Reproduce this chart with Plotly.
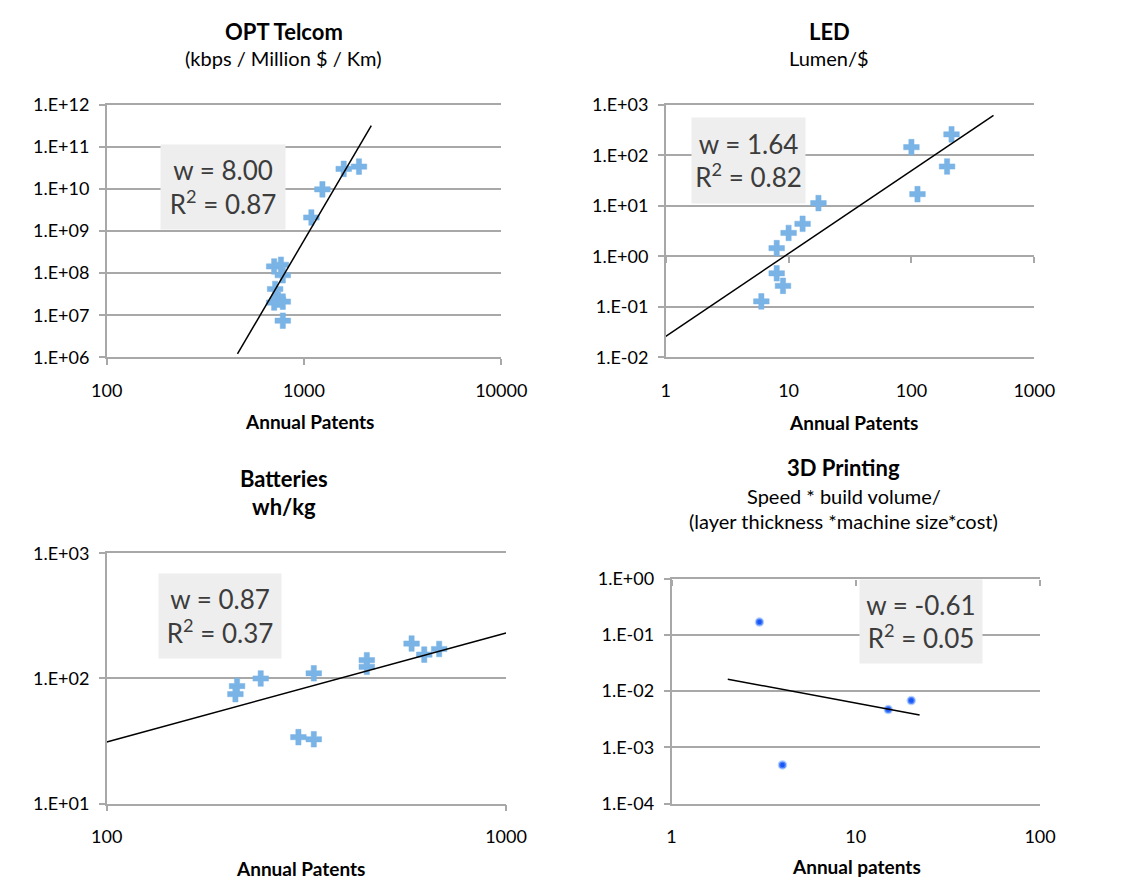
import numpy as np
import plotly.graph_objects as go

PW, PH = 1126, 889      # page (window) size
OFF = 8                 # default body margin of the page
W, H = PW - 2 * OFF, PH - 2 * OFF
FONT = "Lato"

# ---------------- data ----------------
opt_patents = [1900, 1590, 1240, 1090, 706, 764, 781, 714, 738, 781, 706, 781]
opt_perf = [3.4e10, 3.0e10, 9.8e9, 2.1e9, 1.44e8, 1.58e8, 8.9e7, 4.2e7, 2.35e7, 2.1e7, 2.0e7, 7.4e6]
opt_fit = dict(w=8.00, r2=0.87, c=6.0e-16, x0=460, x1=2194)

led_patents = [6, 8, 8, 9, 10, 13, 17.5, 100, 112, 195, 212]
led_perf = [0.128, 1.45, 0.46, 0.26, 2.9, 4.4, 11.3, 145, 17, 60, 260]
led_fit = dict(w=1.64, r2=0.82, c=0.026, x0=1, x1=466)

bat_patents = [212, 210, 243, 302, 330, 330, 448, 448, 580, 624, 680]
bat_perf = [87, 75, 100, 34, 32.7, 110, 140, 124, 190, 155, 172]
bat_fit = dict(w=0.87, r2=0.37, c=0.566, x0=100, x1=1000)

p3d_patents = [3, 4, 15, 20]
p3d_perf = [0.169, 4.9e-4, 4.7e-3, 6.8e-3]
p3d_fit = dict(w=-0.61, r2=0.05, c=0.025, x0=2.02, x1=22.2)

titles = ["OPT Telcom", "LED", "Batteries", "3D Printing"]
subtitles = [
    ["(kbps / Million $ / Km)"],
    ["Lumen/$"],
    ["wh/kg"],
    ["Speed * build volume/", "(layer thickness *machine size*cost)"],
]
xtitles = ["Annual Patents", "Annual Patents", "Annual Patents", "Annual patents"]

# log10 ranges
x_ranges = [(2, 4), (0, 3), (2, 3), (0, 2)]
y_ranges = [(6, 12), (-2, 3), (1, 3), (-4, 0)]

# ---------------- layout geometry (page pixels) ----------------
dom_px = [  # left, right, top, bottom
    (94, 504, 95, 354),
    (675, 1058, 95, 354),
    (94, 509, 555, 812),
    (681, 1064, 581, 812),
]


def px2x(px):
    return (px - OFF) / W


def px2y(py):
    return 1 - (py - OFF) / H


def xd(l, r):
    return [px2x(l), px2x(r)]


def yd(t, b):
    return [px2y(b), px2y(t)]


def ylab(e):
    return f"1.E{e:+03d}"


GRID = "#a8a8a8"
fig = go.Figure()

datasets = [
    (opt_patents, opt_perf, opt_fit),
    (led_patents, led_perf, led_fit),
    (bat_patents, bat_perf, bat_fit),
    (p3d_patents, p3d_perf, p3d_fit),
]

for i, (xs, ys, fit) in enumerate(datasets):
    n = i + 1
    xa = "x" if n == 1 else f"x{n}"
    ya = "y" if n == 1 else f"y{n}"
    if n < 4:
        marker = dict(symbol="cross", size=13, color="#7ab4e6",
                      line=dict(width=1, color="rgba(122,180,230,0.5)"))
    else:
        marker = dict(symbol="circle", size=7, color="#1a55f5",
                      line=dict(width=2.5, color="rgba(120,170,255,0.55)"))
    fig.add_trace(go.Scatter(x=xs, y=ys, mode="markers", marker=marker,
                             xaxis=xa, yaxis=ya, showlegend=False, hoverinfo="x+y"))
    fx = np.geomspace(fit["x0"], fit["x1"], 40)
    fy = fit["c"] * fx ** fit["w"]
    fig.add_trace(go.Scatter(x=fx, y=fy, mode="lines", line=dict(color="black", width=1.5),
                             xaxis=xa, yaxis=ya, showlegend=False, hoverinfo="skip"))

layout = dict(
    width=W, height=H, margin=dict(l=0, r=0, t=0, b=0), autosize=False,
    paper_bgcolor="white", plot_bgcolor="white",
    font=dict(family=FONT, size=18, color="black"),
)

for i in range(4):
    n = i + 1
    l, r, t, b = dom_px[i]
    xr, yr = x_ranges[i], y_ranges[i]
    xk = "xaxis" if n == 1 else f"xaxis{n}"
    yk = "yaxis" if n == 1 else f"yaxis{n}"
    xv = [10 ** e for e in range(xr[0], xr[1] + 1)]
    yv = [10 ** e for e in range(yr[0], yr[1] + 1)]
    bottom_ticks = n in (1, 3)
    layout[xk] = dict(
        type="log", range=list(xr), domain=xd(l, r), anchor="y" if n == 1 else f"y{n}",
        tickvals=xv, ticktext=[str(int(v)) for v in xv],
        showgrid=False, zeroline=False, showline=True, mirror=True,
        linecolor=GRID, linewidth=1.5,
        ticks="outside" if bottom_ticks else "", ticklen=6, tickcolor=GRID, tickwidth=1.5,
        ticklabelstandoff=10 if bottom_ticks else 16,
        tickfont=dict(family=FONT, size=18, color="black"), fixedrange=True,
    )
    layout[yk] = dict(
        type="log", range=list(yr), domain=yd(t, b), anchor="x" if n == 1 else f"x{n}",
        tickvals=yv, ticktext=[ylab(e) for e in range(yr[0], yr[1] + 1)],
        showgrid=True, gridcolor=GRID, gridwidth=1.5, zeroline=False,
        showline=True, linecolor=GRID, linewidth=1.5,
        ticks="outside", ticklen=6, tickcolor=GRID, tickwidth=1.5,
        ticklabelstandoff=6,
        tickfont=dict(family=FONT, size=18, color="black"), fixedrange=True,
    )

# extra tick-only axes where Excel's horizontal axis crosses at y = 1
extra = {5: 2, 6: 4}
for k, n in extra.items():
    l, r, t, b = dom_px[n - 1]
    yr = y_ranges[n - 1]
    frac = (0 - yr[0]) / (yr[1] - yr[0])
    y0, y1 = yd(t, b)
    pos = y0 + frac * (y1 - y0)
    xr = x_ranges[n - 1]
    layout[f"xaxis{k}"] = dict(
        type="log", range=list(xr), domain=xd(l, r), overlaying=f"x{n}", anchor="free",
        position=pos, side="bottom", tickvals=[10 ** e for e in range(xr[0], xr[1] + 1)],
        showticklabels=False, ticks="outside", ticklen=6, tickcolor=GRID, tickwidth=1.5,
        showgrid=False, zeroline=False, showline=False, fixedrange=True,
    )
    fig.add_trace(go.Scatter(x=[], y=[], xaxis=f"x{k}", yaxis=f"y{n}", showlegend=False))


def ann(text, px, py, size, bold=False, color="black"):
    if bold:
        text = f"<b>{text}</b>"
    return dict(text=text, x=px2x(px), y=px2y(py), xref="paper", yref="paper",
                xanchor="center", yanchor="middle", showarrow=False,
                font=dict(family=FONT, size=size, color=color))


# (center x, title y, [subtitle y ...])
title_pos = [
    (278, 20, [47]),
    (845, 20, [47]),
    (278, 478, [507]),
    (860, 467, [496, 522]),
]
anns = []
for i, tt in enumerate(titles):
    x, ty, sys_ = title_pos[i]
    anns.append(ann(tt, x, ty, 22, bold=True))
    for st, sy in zip(subtitles[i], sys_):
        if i == 2:
            anns.append(ann(st, x, sy, 22, bold=True))
        else:
            anns.append(ann(st, x, sy, 20))

xt_pos = [(305, 420), (870, 421), (295, 878), (873, 876)]
for i, (x, y) in enumerate(xt_pos):
    anns.append(ann(xtitles[i], x, y, 19, bold=True))

box_px = [(149, 135, 124, 84), (701, 107, 113, 85), (147, 575, 122, 84), (876, 581, 122, 83)]
fits = [opt_fit, led_fit, bat_fit, p3d_fit]
for i, f in enumerate(fits):
    bx, by, bw, bh = box_px[i]
    anns.append(dict(
        text=f"w = {f['w']:.2f}<br>R<sup>2</sup> = {f['r2']:.2f}",
        x=px2x(bx), y=px2y(by), xref="paper", yref="paper", xanchor="left", yanchor="top",
        width=bw, height=bh, align="center", valign="middle", showarrow=False,
        bgcolor="#eeeeee", borderpad=0,
        font=dict(family=FONT, size=26, color="#3c3c3c"),
    ))

layout["annotations"] = anns
fig.update_layout(**layout)

fig.write_html("out.html", config={"displayModeBar": False})
